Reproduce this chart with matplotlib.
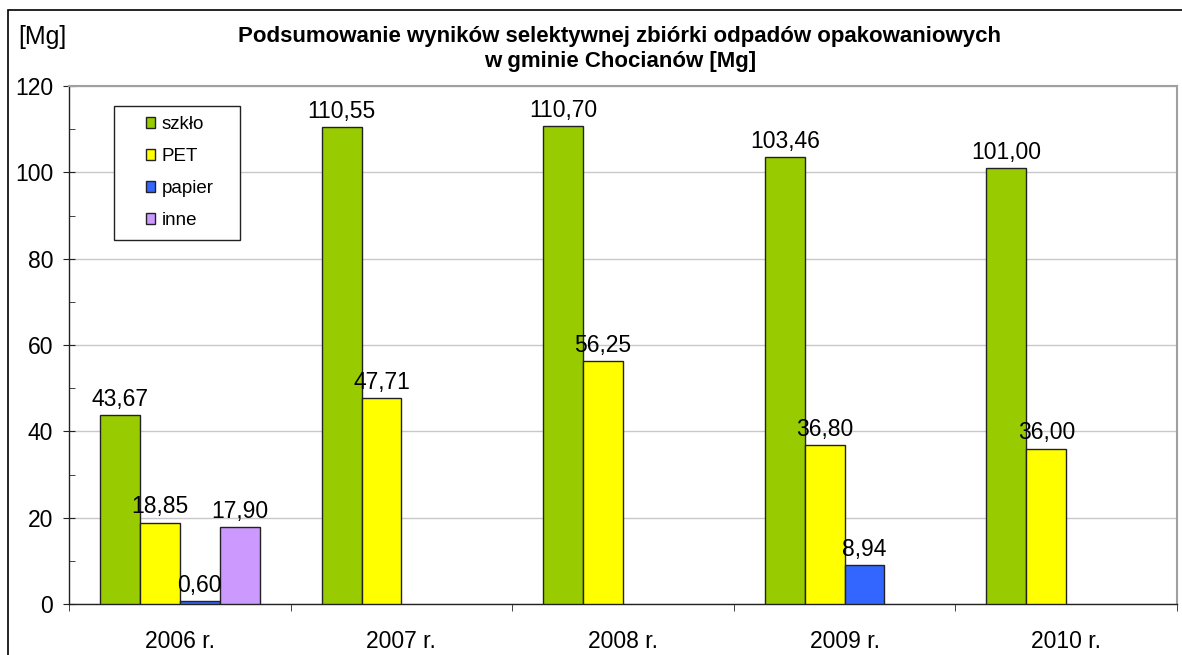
import numpy as np
import matplotlib.pyplot as plt
from matplotlib.patches import Rectangle
from matplotlib.ticker import MultipleLocator

plt.rcParams['font.family'] = ['Liberation Sans', 'DejaVu Sans']

years = ['2006 r.', '2007 r.', '2008 r.', '2009 r.', '2010 r.']
series = ['szkło', 'PET', 'papier', 'inne']
szklo = [43.67, 110.55, 110.70, 103.46, 101.00]
pet = [18.85, 47.71, 56.25, 36.80, 36.00]
papier = [0.60, None, None, 8.94, None]
inne = [17.90, None, None, None, None]
colors = ['#99CC00', '#FFFF00', '#3366FF', '#CC99FF']

W, H = 1182, 655
fig = plt.figure(figsize=(W / 100, H / 100), dpi=100)
ax = fig.add_axes([69 / W, 1 - 604 / H, (1177 - 69) / W, (604 - 86) / H])

x = np.arange(len(years))
width = 0.18
for i, (vals, col) in enumerate(zip([szklo, pet, papier, inne], colors)):
    off = (i - 1.5) * width
    xs = [xi + off for xi, v in zip(x, vals) if v is not None]
    vs = [v for v in vals if v is not None]
    bars = ax.bar(xs, vs, width, color=col, edgecolor='#222222', linewidth=1, zorder=3,
                  label=series[i])
    for b, v in zip(bars, vs):
        ax.annotate(f'{v:.2f}'.replace('.', ','), (b.get_x() + b.get_width() / 2, v),
                    xytext=(0, 3), textcoords='offset points', ha='center', va='bottom',
                    fontsize=16.5, zorder=4)

ax.set_xlim(-0.5, len(years) - 0.5)
ax.set_ylim(0, 120)
ax.yaxis.set_major_locator(MultipleLocator(20))
ax.yaxis.set_minor_locator(MultipleLocator(10))
ax.grid(axis='y', color='#C8C8C8', linewidth=1, zorder=0)
ax.set_xticks(x)
ax.set_xticklabels(years)
ax.set_xticks(np.arange(len(years) + 1) - 0.5, minor=True)
ax.tick_params(axis='x', which='major', length=0, labelsize=16.5, pad=19)
ax.tick_params(axis='x', which='minor', length=5, direction='out', color='#222222')
ax.tick_params(axis='y', which='major', length=9, direction='inout', labelsize=16.5, pad=7, color='#222222')
ax.tick_params(axis='y', which='minor', length=4, direction='in', color='#222222')

for s in ['top', 'right']:
    ax.spines[s].set_color('#A0A0A0')
    ax.spines[s].set_linewidth(1.5)
for s in ['left', 'bottom']:
    ax.spines[s].set_color('#222222')
    ax.spines[s].set_linewidth(1)

# legend: frame drawn separately, entries placed inside it
fig.add_artist(Rectangle((114 / W, 1 - 240 / H), 126 / W, 134 / H, transform=fig.transFigure,
                         facecolor='white', edgecolor='#222222', linewidth=1, zorder=4))
leg = fig.legend(loc='upper left', bbox_to_anchor=(146 / W, 1 - 116 / H), fontsize=13.5,
                 frameon=False, handlelength=0.5, handleheight=0.5,
                 labelspacing=0.8, borderpad=0, handletextpad=0.35, borderaxespad=0)
leg.set_zorder(5)

fig.text(620 / W, 1 - 49 / H, 'Podsumowanie wyników selektywnej zbiórki odpadów opakowaniowych\nw gminie Chocianów [Mg]',
         ha='center', va='center', fontsize=16, fontweight='bold', linespacing=1.25)
fig.text(18 / W, 1 - 37 / H, '[Mg]', ha='left', va='center', fontsize=18)

fig.add_artist(Rectangle((8 / W, -0.05), 1.1, 1 - 10 / H + 0.05, transform=fig.transFigure,
                         fill=False, edgecolor='black', linewidth=1.2))

fig.savefig('out.png', dpi=100)
